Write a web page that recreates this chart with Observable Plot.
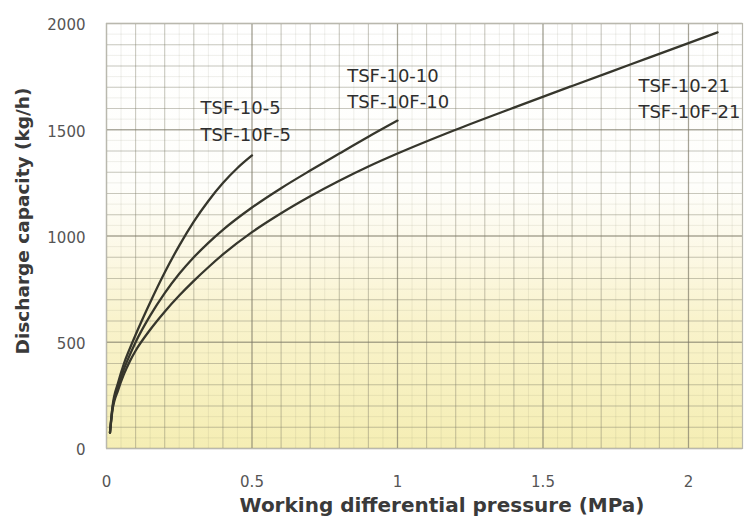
<!DOCTYPE html>
<html>
<head>
<meta charset="utf-8">
<script src="https://cdn.jsdelivr.net/npm/d3@7"></script>
<script src="https://cdn.jsdelivr.net/npm/@observablehq/plot@0.6"></script>
<style>
  html, body { margin: 0; padding: 0; background: #fff; }
  #chart svg { display: block; }
</style>
</head>
<body>
<div id="chart"></div>
<script>
// ---- data ----
const series = ["TSF-10-5", "TSF-10-10", "TSF-10-21"];

const x5  = [0.012, 0.02, 0.04, 0.06, 0.08, 0.1, 0.15, 0.2, 0.25, 0.3, 0.35, 0.4, 0.45, 0.5];
const y5  = [75, 190, 310, 400, 470, 535, 687, 828, 955, 1068, 1165, 1249, 1320, 1379];

const x10 = [0.012, 0.02, 0.04, 0.06, 0.08, 0.1, 0.15, 0.2, 0.25, 0.3, 0.35, 0.4, 0.5, 0.6, 0.7, 0.8, 0.9, 1.0];
const y10 = [75, 185, 290, 375, 440, 500, 625, 731, 822, 900, 968, 1029, 1134, 1225, 1308, 1388, 1467, 1543];

const x21 = [0.012, 0.02, 0.04, 0.06, 0.08, 0.1, 0.15, 0.2, 0.25, 0.3, 0.35, 0.4, 0.5, 0.6, 0.7, 0.8, 0.9, 1.0, 1.2, 1.4, 1.6, 1.8, 2.0, 2.1];
const y21 = [75, 175, 275, 350, 410, 460, 559, 644, 720, 789, 853, 913, 1018, 1107, 1187, 1260, 1327, 1388, 1500, 1604, 1706, 1807, 1908, 1958];

// curve annotations (text + anchor in data units)
const labelText = ["TSF-10-5\nTSF-10F-5", "TSF-10-10\nTSF-10F-10", "TSF-10-21\nTSF-10F-21"];
const labelX = [0.323, 0.827, 1.828];
const labelY = [1550, 1704, 1656];

const xTicks = [0, 0.5, 1, 1.5, 2];
const xTickLabels = ["0", "0.5", "1", "1.5", "2"];
const yTicks = [0, 500, 1000, 1500, 2000];
const yTickLabels = ["0", "500", "1000", "1500", "2000"];

const xTitle = "Working differential pressure (MPa)";
const yTitle = "Discharge capacity (kg/h)";

// ---- build table ----
const rows = [];
[[x5, y5], [x10, y10], [x21, y21]].forEach(([xs, ys], i) => {
  xs.forEach((x, j) => rows.push({series: series[i], x, y: ys[j]}));
});
const labels = labelText.map((t, i) => ({t, x: labelX[i], y: labelY[i]}));

const xMax = 2.1856;
const minorX = d3.range(0, xMax, 0.05);
const majorX = d3.range(0, xMax, 0.1);
const boldX = d3.range(0, xMax, 0.5);
const minorY = d3.range(0, 2001, 50);
const majorY = d3.range(0, 2001, 100);
const boldY = d3.range(0, 2001, 500);

const gridColor = "#7d7866";

const plot = Plot.plot({
  width: 746,
  height: 523,
  marginLeft: 106,
  marginRight: 4,
  marginTop: 23,
  marginBottom: 75,
  style: {fontFamily: "'DejaVu Sans', sans-serif", background: "white", overflow: "visible"},
  x: {domain: [0, xMax]},
  y: {domain: [0, 2000]},
  marks: [
    Plot.frame({fill: "url(#bgGrad)", stroke: "none"}),
    Plot.ruleX(minorX, {stroke: gridColor, strokeOpacity: 0.12, strokeWidth: 1}),
    Plot.ruleY(minorY, {stroke: gridColor, strokeOpacity: 0.12, strokeWidth: 1}),
    Plot.ruleX(majorX, {stroke: gridColor, strokeOpacity: 0.33, strokeWidth: 1.1}),
    Plot.ruleY(majorY, {stroke: gridColor, strokeOpacity: 0.33, strokeWidth: 1.1}),
    Plot.ruleX(boldX, {stroke: gridColor, strokeOpacity: 0.45, strokeWidth: 1.3}),
    Plot.ruleY(boldY, {stroke: gridColor, strokeOpacity: 0.45, strokeWidth: 1.3}),
    Plot.frame({stroke: "#b9b8ae", strokeWidth: 1.2}),
    Plot.line(rows, {x: "x", y: "y", z: "series", curve: "monotone-x", stroke: "#36362c", strokeWidth: 2.3}),
    Plot.text(labels, {x: "x", y: "y", text: "t", textAnchor: "start", lineAnchor: "middle", lineHeight: 1.45, fontSize: 18, fill: "#2e2e2e"}),
    Plot.axisX({ticks: xTicks, tickFormat: (d) => xTickLabels[xTicks.indexOf(d)], tickSize: 0, tickPadding: 28, fontSize: 15, fill: "#555", label: null}),
    Plot.axisY({ticks: yTicks, tickFormat: (d) => yTickLabels[yTicks.indexOf(d)], tickSize: 0, tickPadding: 21, dy: 2, fontSize: 15, fill: "#555", label: null}),
    Plot.text([xTitle], {frameAnchor: "bottom", textAnchor: "middle", lineAnchor: "middle", dx: 17.5, dy: 57, fontSize: 20, fontWeight: "bold", fill: "#3a3a3a"}),
    Plot.text([yTitle], {frameAnchor: "left", textAnchor: "middle", lineAnchor: "middle", dx: -83, dy: -15, rotate: -90, fontSize: 18.5, fontWeight: "bold", fill: "#3a3a3a"})
  ]
});

// background gradient (white at top, pale yellow at bottom)
const svg = d3.select(plot);
const grad = svg.insert("defs", ":first-child")
  .append("linearGradient")
  .attr("id", "bgGrad")
  .attr("x1", 0).attr("y1", 0).attr("x2", 0).attr("y2", 1);
[[0, "#ffffff"], [0.38, "#fefefb"], [0.55, "#fcf8e4"], [0.7, "#f9f3cc"], [1, "#f5eeb4"]]
  .forEach(([o, c]) => grad.append("stop").attr("offset", o).attr("stop-color", c));

document.getElementById("chart").append(plot);
</script>
</body>
</html>
